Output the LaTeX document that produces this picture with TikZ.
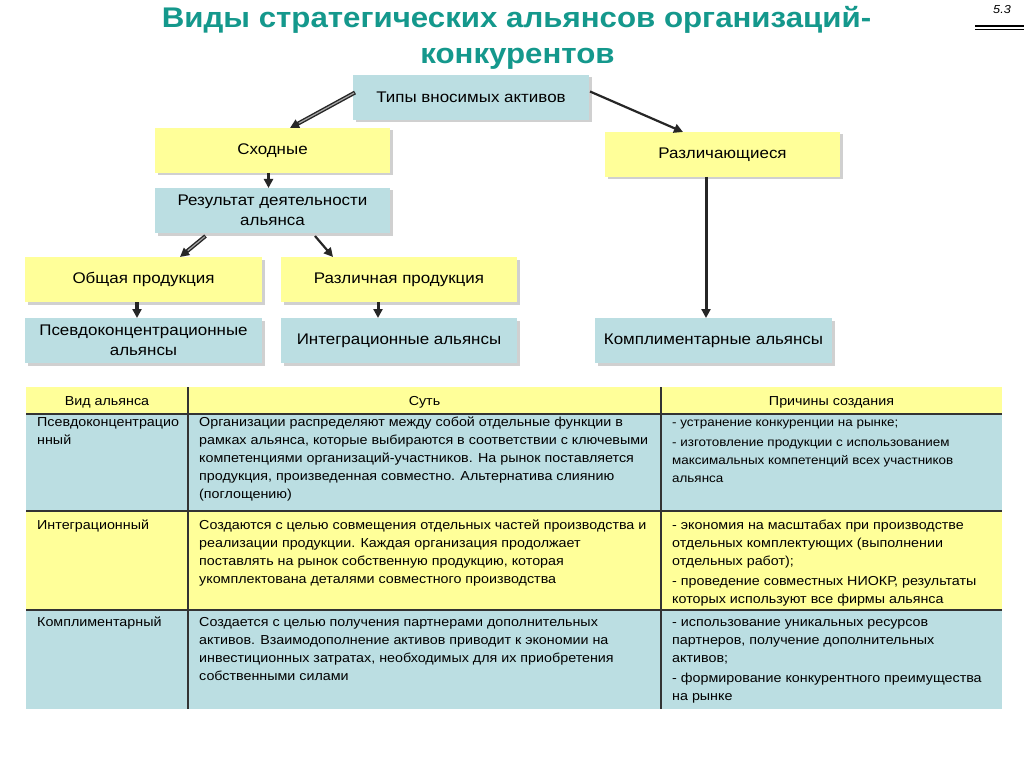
\documentclass[tikz,border=0pt]{standalone}
\usepackage{fontspec}
\setmainfont[FakeStretch=1.1]{Liberation Sans}
\usetikzlibrary{shadows,arrows.meta,calc}
\definecolor{ttl}{RGB}{20,152,140}
\definecolor{yel}{RGB}{255,255,153}
\definecolor{blu}{RGB}{187,222,226}
\begin{document}
\begin{tikzpicture}[x=1pt,y=-1pt,
  box/.style={rectangle, minimum width=236pt, minimum height=45pt, inner sep=0pt, outer sep=0pt,
    font=\fontsize{15.4}{20.5}\selectfont, align=center,
    drop shadow={shadow xshift=2.5pt, shadow yshift=-2.5pt, opacity=0.3, fill=black!60}},
  ybox/.style={box, fill=yel},
  bbox/.style={box, fill=blu},
  arr/.style={-{Triangle[length=9pt,width=9pt]}, draw=black!85},
  hilite/.style={draw=gray!70, line width=1.2pt, shorten >=10pt, shorten <=1pt},
  cell/.style={inner sep=0pt, outer sep=0pt, anchor=north west, minimum width=976pt},
  txt/.style={inner sep=0pt, anchor=north west, align=left, font=\fontsize{13}{18}\selectfont},
  htxt/.style={inner sep=0pt, anchor=base, font=\fontsize{13}{18}\selectfont},
  sep/.style={line width=1.6pt, draw=black!80},
  ttlf/.style={font=\fontsize{28.4}{33}\selectfont\bfseries, text=ttl, anchor=base, inner sep=0pt}
]
\useasboundingbox (0,0) rectangle (1024,767);
\fill[white] (0,0) rectangle (1024,767);

% title
\node[ttlf] (title1) at (516.5,27.5) {Виды стратегических альянсов организаций-};
\node[ttlf] (title2) at (517.5,63.5) {конкурентов};
\node[font=\fontsize{11.5}{14}\selectfont\itshape, anchor=base east, inner sep=0pt] (num) at (1011,14) {5.3};
\draw[line width=1.3pt] (975,26) -- (1024,26) (975,29.5) -- (1024,29.5);

% boxes
\node[bbox] (tipy) at (471,97.5) {Типы вносимых активов};
\node[ybox, minimum width=235pt] (shod) at (272.5,150.5) {Сходные};
\node[ybox, minimum width=235pt] (razl) at (722.5,154.5) {Различающиеся};
\node[bbox, minimum width=235pt] (rez) at (272.5,210.5) {Результат деятельности\\альянса};
\node[ybox, minimum width=237pt] (obsh) at (143.5,279.5) {Общая продукция};
\node[ybox] (razlp) at (399,279.5) {Различная продукция};
\node[bbox, minimum width=237pt] (psev) at (143.5,340.5) {Псевдоконцентрационные\\альянсы};
\node[bbox] (integ) at (399,340.5) {Интеграционные альянсы};
\node[bbox, minimum width=237pt] (kompl) at (713.5,340.5) {Комплиментарные альянсы};

% arrows
\draw[arr, line width=4pt] ($(tipy.west)+(2,-5)$) -- ($(shod.north)+(17.5,0)$);
\draw[hilite] ($(tipy.west)+(2,-5)$) -- ($(shod.north)+(17.5,0)$);
\draw[arr, line width=2.2pt] ($(tipy.east)+(1,-6)$) -- ($(razl.north)+(-39.5,0)$);
\draw[arr, line width=3.5pt] ($(shod.south)+(-4,0)$) -- ($(rez.north)+(-4,0)$);
\draw[arr, line width=4pt] ($(rez.south)+(-67,3)$) -- ($(obsh.north)+(36.5,0)$);
\draw[hilite] ($(rez.south)+(-67,3)$) -- ($(obsh.north)+(36.5,0)$);
\draw[arr, line width=2.2pt] ($(rez.south)+(42.5,3)$) -- ($(razlp.north)+(-66,0)$);
\draw[arr, line width=3.5pt] ($(obsh.south)+(-6.5,0)$) -- ($(psev.north)+(-6.5,0)$);
\draw[arr, line width=3pt] ($(razlp.south)+(-21,0)$) -- ($(integ.north)+(-21,0)$);
\draw[arr, line width=3pt] ($(razl.south)+(-16.5,0)$) -- ($(razl.south |- kompl.north)+(-16.5,0)$);

% table backgrounds
\node[cell, fill=yel, minimum height=27pt] (hdr) at (26,387) {};
\node[cell, fill=blu, minimum height=97pt] (r1) at (26,414) {};
\node[cell, fill=yel, minimum height=99pt] (r2) at (26,511) {};
\node[cell, fill=blu, minimum height=99pt] (r3) at (26,610) {};
\coordinate (c1t) at (188,387);
\coordinate (c2t) at (661,387);
\draw[sep] (c1t) -- (c1t |- r3.south);
\draw[sep] (c2t) -- (c2t |- r3.south);
\draw[sep] (hdr.south west) -- (hdr.south east);
\draw[sep] (r1.south west) -- (r1.south east);
\draw[sep] (r2.south west) -- (r2.south east);

% header
\node[htxt] (h1) at (107,405.5) {Вид альянса};
\node[htxt] (h2) at (424.5,405.5) {Суть};
\node[htxt] (h3) at (831.5,405.5) {Причины создания};

% row 1
\node[txt] (a1) at (37,414) {\strut Псевдоконцентрацио\\нный};
\node[txt] (b1) at (199,414) {\strut Организации распределяют между собой отдельные функции в\\
рамках альянса, которые выбираются в соответствии с ключевыми\\
компетенциями организаций-участников. На рынок поставляется\\
продукция, произведенная совместно. Альтернатива слиянию\\
(поглощению)};
\node[txt, font=\fontsize{12.2}{18}\selectfont] (c1) at (672,414) {\strut - устранение конкуренции на рынке;\\[2pt]
- изготовление продукции с использованием\\
максимальных компетенций всех участников\\
альянса};

% row 2
\node[txt] (a2) at (37,517) {\strut Интеграционный};
\node[txt] (b2) at (199,517) {\strut Создаются с целью совмещения отдельных частей производства и\\
реализации продукции. Каждая организация продолжает\\
поставлять на рынок собственную продукцию, которая\\
укомплектована деталями совместного производства};
\node[txt] (c2) at (672,517) {\strut - экономия на масштабах при производстве\\
отдельных комплектующих (выполнении\\
отдельных работ);\\[2pt]
- проведение совместных НИОКР, результаты\\
которых используют все фирмы альянса};

% row 3
\node[txt] (a3) at (37,614) {\strut Комплиментарный};
\node[txt] (b3) at (199,614) {\strut Создается с целью получения партнерами дополнительных\\
активов. Взаимодополнение активов приводит к экономии на\\
инвестиционных затратах, необходимых для их приобретения\\
собственными силами};
\node[txt] (c3) at (672,614) {\strut - использование уникальных ресурсов\\
партнеров, получение дополнительных\\
активов;\\[2pt]
- формирование конкурентного преимущества\\
на рынке};
\end{tikzpicture}
\end{document}
